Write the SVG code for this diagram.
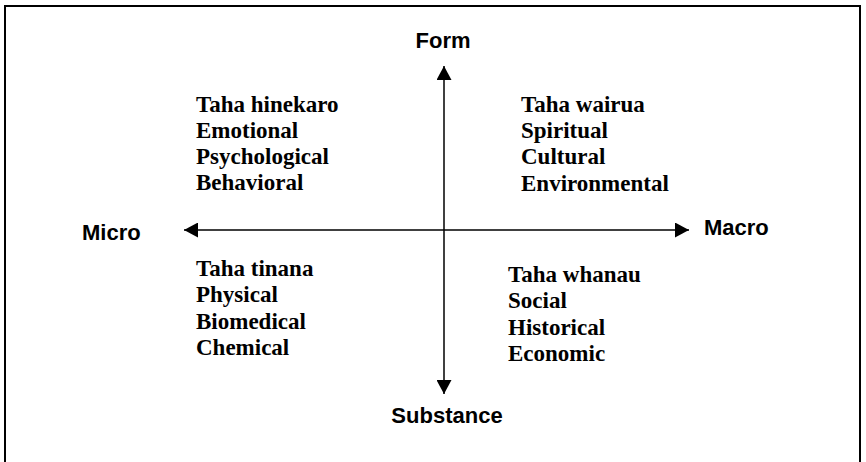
<svg xmlns="http://www.w3.org/2000/svg" width="866" height="462" viewBox="0 0 866 462">
<style>
.axis{font-family:"Liberation Sans",Arial,sans-serif;font-weight:bold;font-size:22px;fill:#000}
.q{font-family:"Liberation Serif","Times New Roman",serif;font-weight:bold;font-size:23px;fill:#000}
.ln{stroke:#000;stroke-width:1.5;fill:none}
</style>
<defs>
<marker id="ah" viewBox="0 0 14 15" refX="14" refY="7.5" markerWidth="14" markerHeight="15" markerUnits="userSpaceOnUse" orient="auto">
<path d="M0,0 L14,7.5 L0,15 Z" fill="#000"/>
</marker>
</defs>
<rect x="0" y="0" width="866" height="462" fill="#fff"/>
<rect x="5" y="6" width="855" height="470" fill="none" stroke="#000" stroke-width="2"/>
<g id="connectors">
<line class="ln" x1="444" y1="230" x2="444" y2="66" marker-end="url(#ah)"/>
<line class="ln" x1="444" y1="230" x2="444" y2="394" marker-end="url(#ah)"/>
<line class="ln" x1="444" y1="230" x2="184" y2="230" marker-end="url(#ah)"/>
<line class="ln" x1="444" y1="230" x2="689" y2="230" marker-end="url(#ah)"/>
</g>
<g id="form"><text class="axis" x="443" y="48" text-anchor="middle">Form</text></g>
<g id="substance"><text class="axis" x="447" y="423" text-anchor="middle">Substance</text></g>
<g id="micro"><text class="axis" x="82" y="240">Micro</text></g>
<g id="macro"><text class="axis" x="704" y="235">Macro</text></g>
<g id="q-top-left">
<text class="q" x="196" y="112">Taha hinekaro</text>
<text class="q" x="196" y="138">Emotional</text>
<text class="q" x="196" y="164">Psychological</text>
<text class="q" x="196" y="190">Behavioral</text>
</g>
<g id="q-top-right">
<text class="q" x="521" y="112">Taha wairua</text>
<text class="q" x="521" y="138">Spiritual</text>
<text class="q" x="521" y="164">Cultural</text>
<text class="q" x="521" y="191">Environmental</text>
</g>
<g id="q-bottom-left">
<text class="q" x="196" y="276">Taha tinana</text>
<text class="q" x="196" y="302">Physical</text>
<text class="q" x="196" y="329">Biomedical</text>
<text class="q" x="196" y="355">Chemical</text>
</g>
<g id="q-bottom-right">
<text class="q" x="508" y="282">Taha whanau</text>
<text class="q" x="508" y="308">Social</text>
<text class="q" x="508" y="335">Historical</text>
<text class="q" x="508" y="361">Economic</text>
</g>
</svg>
